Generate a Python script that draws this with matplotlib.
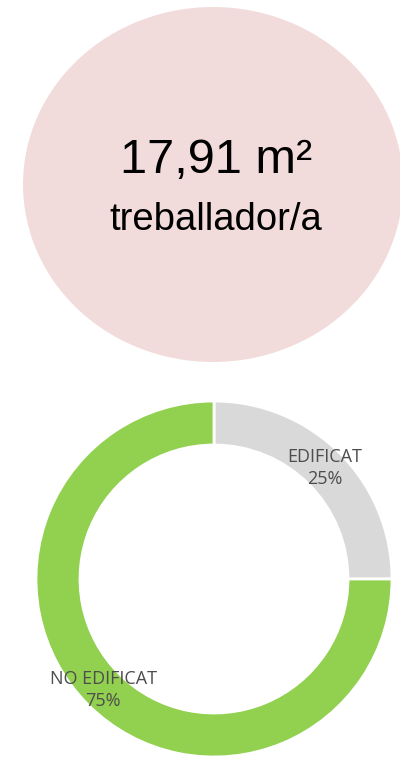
import matplotlib
matplotlib.use("Agg")
import matplotlib.pyplot as plt
from matplotlib.patches import Ellipse

# ratio figure
ratio_value = "17,91"
ratio_unit = "m²"
ratio_caption = "treballador/a"

# land use split
categories = ["EDIFICAT", "NO EDIFICAT"]
shares = [25, 75]
colors = ["#D9D9D9", "#92D050"]


def main():
    fig = plt.figure(figsize=(4.0, 7.58), dpi=100)
    ax = fig.add_axes([0, 0, 1, 1])

    # pink bubble with the ratio
    ax.add_patch(Ellipse((213, 573.5), 380, 355, facecolor="#F2DCDB", edgecolor="none"))
    ax.text(216, 585, f"{ratio_value} {ratio_unit}", ha="center", va="baseline",
            fontsize=35, color="black", family="Liberation Sans")
    ax.text(216, 528, ratio_caption, ha="center", va="baseline",
            fontsize=27.5, color="black", family="Liberation Sans")

    # donut
    labels = [f"{c}\n{s}%" for c, s in zip(categories, shares)]
    wedges, texts = ax.pie(shares, labels=labels, colors=colors, startangle=90,
                           counterclock=False, center=(214, 179), radius=178,
                           labeldistance=0.88, frame=True,
                           wedgeprops=dict(width=44, edgecolor="white", linewidth=2),
                           textprops=dict(fontsize=13, color="#4D4D4D",
                                          family="Open Sans", linespacing=1.3))
    for t in texts:
        t.set_ha("center")
        t.set_va("center")

    ax.set_xlim(0, 400)
    ax.set_ylim(0, 758)
    ax.set_aspect("equal")
    ax.axis("off")
    fig.savefig("out.png", dpi=100)


if __name__ == "__main__":
    main()
